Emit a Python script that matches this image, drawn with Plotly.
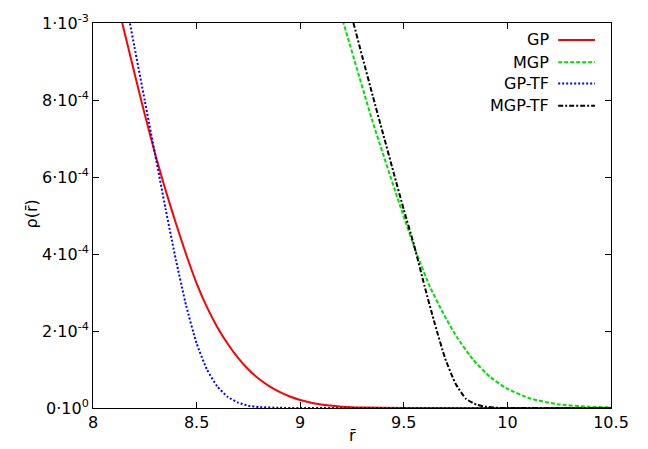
import plotly.graph_objects as go

# GP (red, solid)  -- rho in units of 1e-4
gp_r = [8.10, 8.141, 8.20, 8.25, 8.30, 8.35, 8.40, 8.45, 8.50, 8.55, 8.60, 8.65, 8.70, 8.75, 8.80,
        8.85, 8.90, 8.95, 9.00, 9.10, 9.20, 9.30, 9.50, 10.0, 10.5]
gp_rho = [10.9, 10.0, 8.70, 7.62, 6.60, 5.66, 4.80, 3.98, 3.24, 2.62, 2.10, 1.67, 1.30, 1.00, 0.76,
          0.57, 0.42, 0.30, 0.21, 0.09, 0.035, 0.012, 0.003, 0.0, 0.0]

# MGP (green, dashed)
mgp_r = [9.18, 9.209, 9.347, 9.489, 9.561, 9.626, 9.690, 9.755, 9.835, 9.916, 9.996, 10.109, 10.238, 10.399, 10.5]
mgp_rho = [10.5, 10.0, 7.48, 5.14, 4.02, 3.15, 2.46, 1.85, 1.25, 0.81, 0.51, 0.25, 0.10, 0.03, 0.02]

# GP-TF (blue, dotted)
gptf_r = [8.15, 8.178, 8.20, 8.25, 8.30, 8.35, 8.40, 8.45, 8.50, 8.55, 8.60, 8.65, 8.70, 8.75, 8.80, 8.90, 9.0, 10.5]
gptf_rho = [10.8, 10.0, 9.38, 7.98, 6.58, 5.18, 3.85, 2.65, 1.68, 1.00, 0.56, 0.29, 0.14, 0.06, 0.025, 0.005, 0.0, 0.0]

# MGP-TF (black, dash-dot)
mgptf_r = [9.23, 9.257, 9.30, 9.35, 9.40, 9.45, 9.50, 9.55, 9.60, 9.65, 9.70, 9.75, 9.80, 9.85, 9.90, 9.95, 10.0, 10.5]
mgptf_rho = [10.55, 10.0, 9.12, 8.11, 7.12, 6.13, 5.15, 4.22, 3.17, 2.18, 1.28, 0.63, 0.24, 0.09, 0.03, 0.005, 0.0, 0.0]

scale = 1e-4

series_names = ["GP", "MGP", "GP-TF", "MGP-TF"]
series_x = [gp_r, mgp_r, gptf_r, mgptf_r]
series_y = [gp_rho, mgp_rho, gptf_rho, mgptf_rho]
series_colors = ["#ff0000", "#00e000", "#0000ff", "#000000"]
series_dash = ["solid", "4px,2px", "2px,2px", "5px,2px,2px,2px"]

x_tickvals = [8, 8.5, 9, 9.5, 10, 10.5]
x_ticktext = ["8", "8.5", "9", "9.5", "10", "10.5"]
y_tickvals = [0, 2e-4, 4e-4, 6e-4, 8e-4, 1e-3]
y_ticktext = ["0·10<sup>0</sup>", "2·10<sup>-4</sup>", "4·10<sup>-4</sup>",
              "6·10<sup>-4</sup>", "8·10<sup>-4</sup>", "1·10<sup>-3</sup>"]

FONT = "DejaVu Sans"
fig = go.Figure()
for name, xs, ys, c, d in zip(series_names, series_x, series_y, series_colors, series_dash):
    fig.add_trace(go.Scatter(x=xs, y=[v * scale for v in ys], mode="lines", name=name,
                             line=dict(color=c, width=2, dash=d, shape="spline", smoothing=0.5),
                             showlegend=False))

# manual gnuplot-style legend (text right, key sample to the right)
leg_y = [0.956, 0.898, 0.843, 0.785]
for name, c, d, yy in zip(series_names, series_colors, series_dash, leg_y):
    fig.add_annotation(x=0.884, y=yy, xref="paper", yref="paper", text=name, showarrow=False,
                       xanchor="right", yanchor="middle", font=dict(family=FONT, size=16, color="black"))
    fig.add_shape(type="line", xref="paper", yref="paper", x0=0.898, x1=0.969, y0=yy, y1=yy,
                  line=dict(color=c, width=2, dash=d))

# axis titles
fig.add_annotation(x=-0.118, y=0.505, xref="paper", yref="paper", text="ρ(r\u0304)", showarrow=False,
                   textangle=-90, xanchor="center", yanchor="middle",
                   font=dict(family=FONT, size=16, color="black"))
fig.add_annotation(x=0.5, y=-0.072, xref="paper", yref="paper", text="r\u0304", showarrow=False,
                   xanchor="center", yanchor="middle",
                   font=dict(family=FONT, size=16, color="black"))

axis_common = dict(showline=True, linecolor="black", linewidth=1, mirror="ticks",
                   ticks="inside", ticklen=6, tickcolor="black", showgrid=False, zeroline=False,
                   automargin=False, tickfont=dict(family=FONT, size=16, color="black"))
fig.update_xaxes(range=[8, 10.5], tickvals=x_tickvals, ticktext=x_ticktext, **axis_common)
fig.update_yaxes(range=[0, 1e-3], tickvals=y_tickvals, ticktext=y_ticktext, **axis_common)
# page body has an 8px margin: size figure so the plot box lands at the reference pixels
fig.update_layout(width=640, height=441, margin=dict(l=85, r=37, t=15, b=41),
                  plot_bgcolor="white", paper_bgcolor="white",
                  font=dict(family=FONT, size=16, color="black"))
fig.write_html("out.html")
